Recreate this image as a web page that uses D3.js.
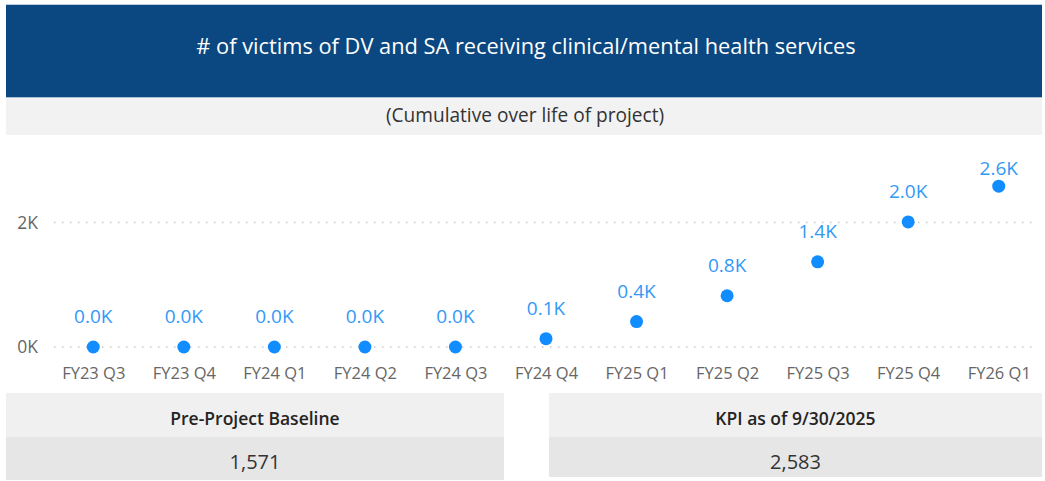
<!DOCTYPE html>
<html>
<head>
<meta charset="utf-8">
<script src="https://cdn.jsdelivr.net/npm/d3@7"></script>
<style>
  html, body { margin: 0; padding: 0; background: #ffffff; }
  svg { display: block; }
  text { font-family: "Open Sans", "Noto Sans", "DejaVu Sans", sans-serif; }
</style>
</head>
<body>
<svg id="chart" width="1045" height="481"></svg>
<script>
// Quarterly reporting periods
const categories = ["FY23 Q3", "FY23 Q4", "FY24 Q1", "FY24 Q2", "FY24 Q3", "FY24 Q4",
                    "FY25 Q1", "FY25 Q2", "FY25 Q3", "FY25 Q4", "FY26 Q1"];
// Cumulative number of victims served
const values = [0, 0, 0, 0, 0, 134, 409, 823, 1368, 2010, 2583];
// Y axis ticks
const yTicks = [0, 2000];
// Summary cards
const cardLabels = ["Pre-Project Baseline", "KPI as of 9/30/2025"];
const cardValues = [1571, 2583];

const titleText = "# of victims of DV and SA receiving clinical/mental health services";
const subtitleText = "(Cumulative over life of project)";

const svg = d3.select("#chart");

// Header band
svg.append("rect").attr("x", 6).attr("y", 4).attr("width", 1036).attr("height", 94)
  .attr("fill", "#0b4780");
svg.append("line").attr("x1", 6).attr("x2", 1042).attr("y1", 4.5).attr("y2", 4.5)
  .attr("stroke", "#b9cbe0").attr("stroke-width", 1);
svg.append("line").attr("x1", 6).attr("x2", 1042).attr("y1", 97.5).attr("y2", 97.5)
  .attr("stroke", "#a9c0da").attr("stroke-width", 1);
svg.append("text").attr("x", 526).attr("y", 54).attr("text-anchor", "middle")
  .attr("fill", "#ffffff").attr("font-size", 21.8).text(titleText);

// Subtitle band
svg.append("rect").attr("x", 6).attr("y", 98).attr("width", 1036).attr("height", 37)
  .attr("fill", "#f2f2f2");
svg.append("text").attr("x", 525).attr("y", 122).attr("text-anchor", "middle")
  .attr("fill", "#333333").attr("font-size", 19.1).text(subtitleText);

// Scales
const x = d3.scalePoint().domain(categories).range([48, 1044]).padding(0.5);
const y = d3.scaleLinear().domain([0, 2000]).range([347, 222.5]);

// Dotted gridlines
svg.append("g").selectAll("line").data(yTicks).join("line")
  .attr("x1", 54).attr("x2", 1034)
  .attr("y1", d => y(d)).attr("y2", d => y(d))
  .attr("stroke", "#c8c8c8").attr("stroke-width", 1.5)
  .attr("stroke-dasharray", "1.5,6.5");

// Y axis
const yAxis = svg.append("g").attr("transform", "translate(48,0)")
  .call(d3.axisLeft(y).tickValues(yTicks).tickSize(0).tickPadding(10)
    .tickFormat(d => (d / 1000) + "K"));
yAxis.select(".domain").remove();
yAxis.selectAll("text").attr("fill", "#666666").attr("font-size", 17.5)
  .style("font-family", "\"Open Sans\", sans-serif");

// X axis
const xAxis = svg.append("g").attr("transform", "translate(0,356)")
  .call(d3.axisBottom(x).tickSize(0).tickPadding(11));
xAxis.select(".domain").remove();
xAxis.selectAll("text").attr("fill", "#666666").attr("font-size", 16.5)
  .style("font-family", "\"Open Sans\", sans-serif");

// Points
const pts = categories.map((c, i) => ({ c, v: values[i] }));
svg.append("g").selectAll("circle").data(pts).join("circle")
  .attr("cx", d => x(d.c)).attr("cy", d => y(d.v)).attr("r", 6.5)
  .attr("fill", "#118dff");

// Data labels
svg.append("g").selectAll("text").data(pts).join("text")
  .attr("x", d => x(d.c))
  .attr("y", d => Math.max(y(d.v) - 24, 175))
  .attr("text-anchor", "middle").attr("fill", "#3399f7").attr("font-size", 19)
  .text(d => (d.v / 1000).toFixed(1) + "K");

// Summary cards
const cards = [{ x0: 6, x1: 504, bottom: 480 }, { x0: 549, x1: 1042, bottom: 477 }];
cards.forEach((b, i) => {
  const g = svg.append("g");
  const cx = (b.x0 + b.x1) / 2;
  g.append("rect").attr("x", b.x0).attr("y", 393).attr("width", b.x1 - b.x0).attr("height", 44)
    .attr("fill", "#f0f0f0");
  g.append("rect").attr("x", b.x0).attr("y", 437).attr("width", b.x1 - b.x0).attr("height", b.bottom - 437)
    .attr("fill", "#e6e6e6");
  g.append("text").attr("x", cx).attr("y", 425).attr("text-anchor", "middle")
    .attr("fill", "#252423").attr("font-size", 17.5).attr("font-weight", 600)
    .text(cardLabels[i]);
  g.append("text").attr("x", cx).attr("y", 469).attr("text-anchor", "middle")
    .attr("fill", "#333333").attr("font-size", 20)
    .text(d3.format(",")(cardValues[i]));
});
</script>
</body>
</html>
